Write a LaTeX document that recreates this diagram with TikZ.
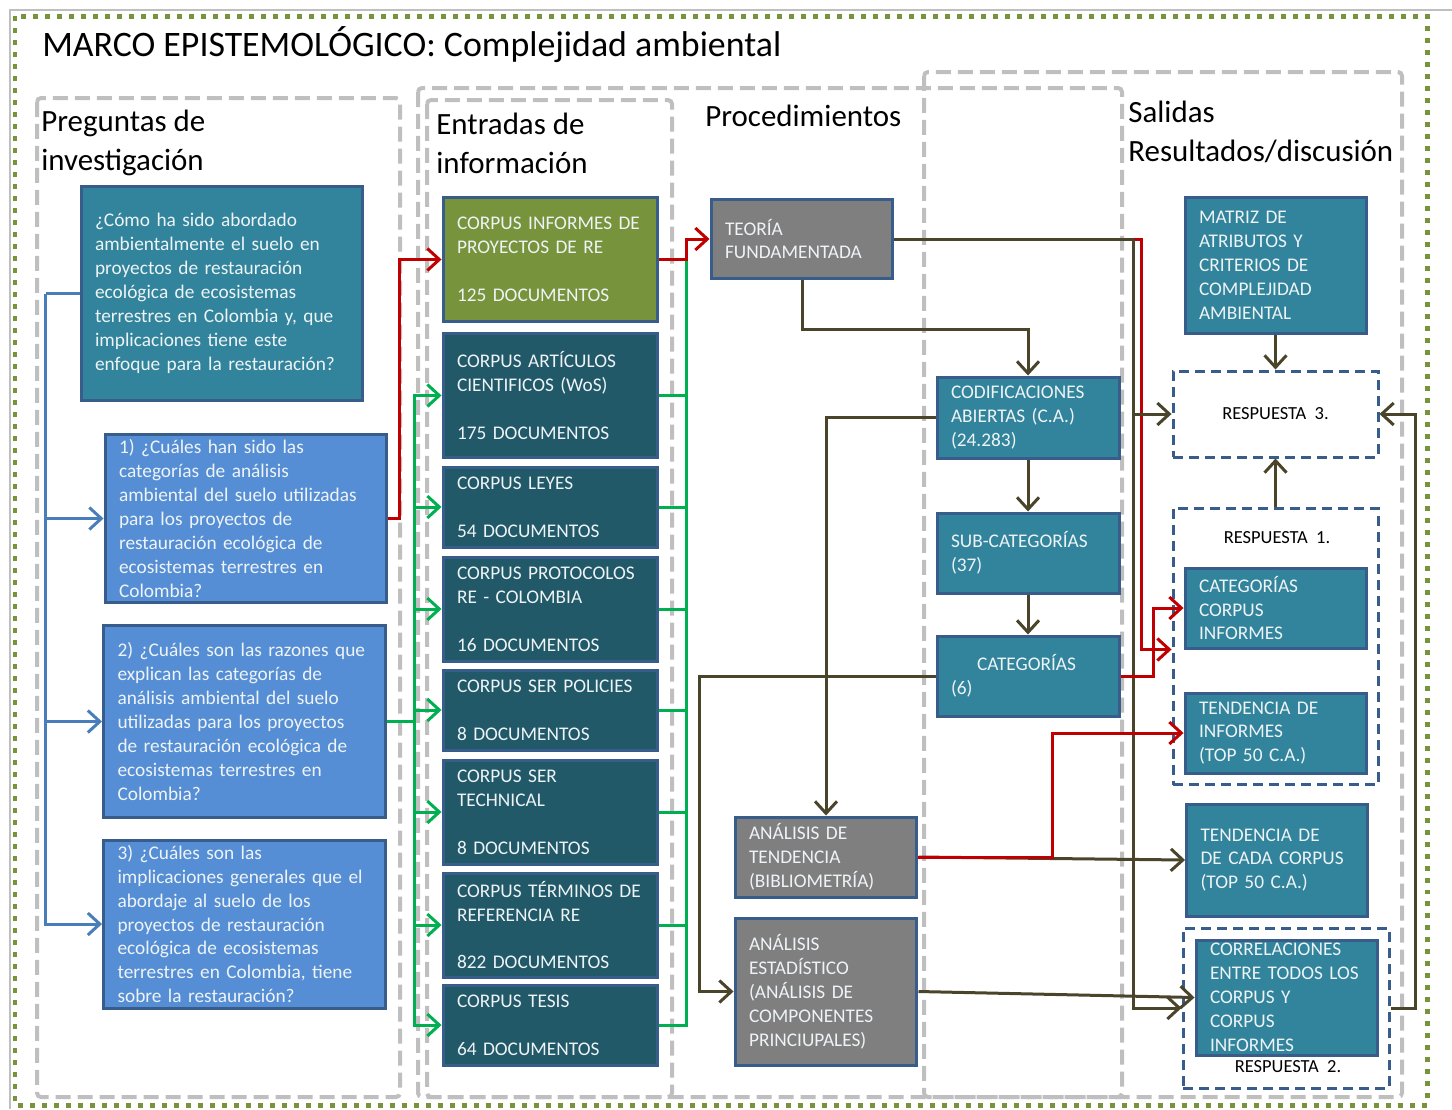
\documentclass[tikz,border=0pt]{standalone}
\usepackage{fontspec}
\setmainfont{Carlito}
\usetikzlibrary{arrows.meta,positioning}
\definecolor{azulverde}{HTML}{31849B}
\definecolor{azulpreg}{HTML}{558ED5}
\definecolor{verdeoliva}{HTML}{77933C}
\definecolor{petroleo}{HTML}{215968}
\definecolor{grisproc}{HTML}{7F7F7F}
\definecolor{borde}{HTML}{385D8A}
\definecolor{rojo}{HTML}{C00000}
\definecolor{verdelinea}{HTML}{00B050}
\definecolor{azullinea}{HTML}{4A7EBB}
\definecolor{oscuro}{HTML}{4A452A}
\definecolor{textoclaro}{HTML}{EEF3F6}
\tikzset{
  caja/.style={draw=borde,line width=0.06cm,inner xsep=0.28cm,inner ysep=0pt,align=left,
    text=textoclaro,font=\fontsize{11}{13.6}\selectfont},
  pregunta/.style={caja,minimum width=5.64cm,text width=5.08cm},
  corpus/.style={caja,fill=petroleo,minimum width=4.3cm,text width=3.74cm},
  proceso/.style={caja,fill=azulverde,minimum width=3.64cm,text width=3.08cm},
  salida/.style={caja,fill=azulverde,minimum width=3.62cm,text width=3.06cm},
  respuesta/.style={draw=borde,fill=white,line width=0.06cm,dash pattern=on 0.2cm off 0.12cm,
    minimum width=4.1cm,font=\fontsize{10.5}{12}\selectfont},
  marco/.style={draw=gray!50,line width=0.08cm,dash pattern=on 0.3cm off 0.14cm,rounded corners=0.08cm},
  titulo/.style={anchor=west,inner sep=0pt,align=left,font=\fontsize{17.6}{22.2}\selectfont},
  punta/.style={-{Straight Barb[length=0.24cm,width=0.44cm]}},
  lineaazul/.style={draw=azullinea,line width=0.06cm},
  flechaazul/.style={lineaazul,punta},
  lineaverde/.style={draw=verdelinea,line width=0.06cm},
  flechaverde/.style={lineaverde,punta},
  flecharoja/.style={draw=rojo,line width=0.06cm,punta},
  lineaosc/.style={draw=oscuro,line width=0.06cm},
  flechaosc/.style={lineaosc,punta}
}
\begin{document}
\begin{tikzpicture}[x=0.02cm,y=-0.02cm]
\useasboundingbox (0,0) rectangle (1452,1109);
% marcos
\draw[gray!50,line width=0.04cm] (10,1109) -- (10,10) -- (1452,10);
\draw[verdeoliva,line width=0.1cm,dash pattern=on 0.1cm off 0.14cm] (15,16) rectangle (1427,1105);
\draw[marco] (37,98) rectangle (400,1097);
\draw[marco] (418,88) rectangle (1122,1097);
\draw[marco] (427,100) rectangle (672,1097);
\draw[marco] (924,72) rectangle (1402,1097);
\node[titulo,font=\fontsize{20.4}{24}\selectfont] (tit) at (42,45) {MARCO EPISTEMOLÓGICO: Complejidad ambiental};
\node[titulo] (hpreg) at (41,143) {Preguntas de\\investigación};
\node[titulo] (hent) at (436,143) {Entradas de\\información};
\node[titulo] (hproc) at (705,116) {Procedimientos};
\node[titulo] (hsal) at (1128,132) {Salidas\\Resultados/discusión};

% preguntas
\node[pregunta,fill=azulverde,minimum height=4.3cm] (q0) at (222,293.5)
  {¿Cómo ha sido abordado\\ambientalmente el suelo en\\proyectos de restauración\\ecológica de ecosistemas\\terrestres en Colombia y, que\\implicaciones tiene este\\enfoque para la restauración?};
\node[pregunta,fill=azulpreg,minimum height=3.38cm] (q1) at (246,518.5)
  {1) ¿Cuáles han sido las\\categorías de análisis\\ambiental del suelo utilizadas\\para los proyectos de\\restauración ecológica de\\ecosistemas terrestres en\\Colombia?};
\node[pregunta,fill=azulpreg,minimum height=3.86cm] (q2) at (244.5,721.5)
  {2) ¿Cuáles son las razones que\\explican las categorías de\\análisis ambiental del suelo\\utilizadas para los proyectos\\de restauración ecológica de\\ecosistemas terrestres en\\Colombia?};
\node[pregunta,fill=azulpreg,minimum height=3.36cm] (q3) at (244.5,924)
  {3) ¿Cuáles son las\\implicaciones generales que el\\abordaje al suelo de los\\proyectos de restauración\\ecológica de ecosistemas\\terrestres en Colombia, tiene\\sobre la restauración?};

% entradas
\node[corpus,fill=verdeoliva,minimum height=2.5cm] (c1) at (550.5,259.5) {CORPUS INFORMES DE\\PROYECTOS DE RE\\[13.6pt]125 DOCUMENTOS};
\node[corpus,minimum height=2.5cm] (c2) at (550.5,395.5) {CORPUS ARTÍCULOS\\CIENTIFICOS (WoS)\\[13.6pt]175 DOCUMENTOS};
\node[corpus,minimum height=1.6cm] (c3) at (550.5,507) {CORPUS LEYES\\[13.6pt]54 DOCUMENTOS};
\node[corpus,minimum height=2.08cm] (c4) at (550.5,609) {CORPUS PROTOCOLOS\\RE - COLOMBIA\\[13.6pt]16 DOCUMENTOS};
\node[corpus,minimum height=1.6cm] (c5) at (550.5,710) {CORPUS SER POLICIES\\[13.6pt]8 DOCUMENTOS};
\node[corpus,minimum height=2.08cm] (c6) at (550.5,812) {CORPUS SER\\TECHNICAL\\[13.6pt]8 DOCUMENTOS};
\node[corpus,minimum height=2.08cm] (c7) at (550.5,925) {CORPUS TÉRMINOS DE\\REFERENCIA RE\\[13.6pt]822 DOCUMENTOS};
\node[corpus,minimum height=1.6cm] (c8) at (550.5,1025) {CORPUS TESIS\\[13.6pt]64 DOCUMENTOS};

% procedimientos
\node[proceso,fill=grisproc,minimum height=1.6cm] (teoria) at (802,239) {TEORÍA\\FUNDAMENTADA};
\node[proceso,minimum height=1.62cm] (codif) at (1028,417.5) {CODIFICACIONES\\ABIERTAS (C.A.)\\(24.283)};
\node[proceso,minimum height=1.6cm] (subcat) at (1028,553) {SUB-CATEGORÍAS\\(37)};
\node[proceso,minimum height=1.6cm] (cat) at (1028,676) {\hspace*{0.52cm}CATEGORÍAS\\(6)};
\node[proceso,fill=grisproc,minimum height=1.6cm] (tend) at (826,857) {ANÁLISIS DE\\TENDENCIA\\(BIBLIOMETRÍA)};
\node[proceso,fill=grisproc,minimum height=2.94cm] (estad) at (826,991.5) {ANÁLISIS\\ESTADÍSTICO\\(ANÁLISIS DE\\COMPONENTES\\PRINCIUPALES)};

% salidas
\node[salida,minimum height=2.74cm] (matriz) at (1275.5,265.5) {MATRIZ DE\\ATRIBUTOS Y\\CRITERIOS DE\\COMPLEJIDAD\\AMBIENTAL};
\node[respuesta,minimum height=1.72cm] (resp3) at (1275.5,414) {RESPUESTA~~3.};
\node[respuesta,minimum height=5.54cm] (resp1) at (1275.5,646.5) {};
\node[font=\fontsize{10.5}{12}\selectfont] (resp1txt) at (1277,538) {RESPUESTA~~1.};
\node[salida,minimum height=1.6cm] (catcorp) at (1275.5,608) {CATEGORÍAS\\CORPUS\\INFORMES};
\node[salida,minimum height=1.6cm] (tendinf) at (1275.5,733) {TENDENCIA DE\\INFORMES\\(TOP 50 C.A.)};
\node[salida,minimum height=2.24cm] (tendcada) at (1277,860) {TENDENCIA DE\\DE CADA CORPUS\\(TOP 50 C.A.)};
\node[respuesta,minimum width=4.12cm,minimum height=3.2cm] (resp2) at (1286,1008) {};
\node[salida,minimum height=2.3cm] (corr) at (1286.5,997.5) {CORRELACIONES\\ENTRE TODOS LOS\\CORPUS Y\\CORPUS\\INFORMES};
\node[font=\fontsize{10.5}{12}\selectfont] (resp2txt) at (1288,1067) {RESPUESTA~~2.};

% conectores
\draw[lineaazul] (q0.west) -- ++(-34,0) coordinate (bv);
\foreach \q in {q1,q2,q3} \draw[flechaazul] (bv) |- (\q.west);
\draw[lineaverde] (q2.east) -- ++(28,0) coordinate (gv);
\foreach \c in {c2,c3,c4,c5,c6,c7,c8} {
  \draw[flechaverde] (gv) |- (\c.west);
  \draw[lineaverde] (\c.east) -- ++(27,0) |- (c1.east);
}
\draw[flecharoja] (q1.east) -- ++(11,0) |- (c1.west);
\draw[flecharoja] (c1.east) -- ++(27,0) |- (teoria.west);
\draw[flecharoja] (teoria.east) -- ++(247,0) |- (resp1.west |- catcorp.south);
\draw[lineaosc] (teoria.east) -- ++(239,0) coordinate (tv);
\draw[flechaosc] (tv) |- (resp3.west);
\draw[flechaosc] (tv) |- (resp2.west);
\draw[flechaosc] (teoria.south) -- ++(0,49) -| (codif.north);
\draw[flechaosc] (codif.south) -- (subcat.north);
\draw[flechaosc] (subcat.south) -- (cat.north);
\draw[flechaosc] (codif.west) -| (tend.north);
\draw[flechaosc] (cat.west) -- ++(-236,0) |- (estad.west);
\draw[flecharoja] (cat.east) -- ++(33,0) |- (catcorp.west);
\draw[flechaosc] (tend.east) -- (tendcada.west);
\draw[flecharoja] (tend.east) -- ++(134,0) |- (tendinf.west);
\draw[flechaosc] (estad.east) -- (corr.west);
\draw[flechaosc] (resp2.east) -- ++(25,0) |- (resp3.east);
\draw[flechaosc] (matriz.south) -- (resp3.north);
\draw[flechaosc] (resp1.north) -- (resp3.south);
\end{tikzpicture}
\end{document}
